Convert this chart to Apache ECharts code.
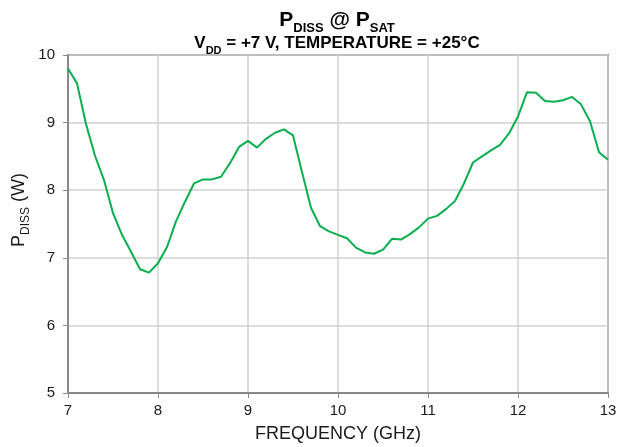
<!DOCTYPE html>
<html><head><meta charset="utf-8">
<script src="https://cdn.jsdelivr.net/npm/echarts@6/dist/echarts.min.js"></script>
<style>html,body{margin:0;padding:0;background:#fff}#c{width:628px;height:447px}</style>
</head><body><div id="c"></div>
<script>
const freq = [7.0,7.1,7.2,7.3,7.4,7.5,7.6,7.7,7.8,7.9,8.0,8.1,8.2,8.3,8.4,8.5,8.6,8.7,8.8,8.9,9.0,9.1,9.2,9.3,9.4,9.5,9.6,9.7,9.8,9.9,10.0,10.1,10.2,10.3,10.4,10.5,10.6,10.7,10.8,10.9,11.0,11.1,11.2,11.3,11.4,11.5,11.6,11.7,11.8,11.9,12.0,12.1,12.2,12.3,12.4,12.5,12.6,12.7,12.8,12.9,13.0];
const pdiss = [9.80,9.58,8.98,8.51,8.15,7.66,7.34,7.09,6.83,6.78,6.92,7.16,7.54,7.83,8.10,8.16,8.16,8.20,8.40,8.64,8.73,8.63,8.76,8.85,8.90,8.81,8.27,7.74,7.47,7.39,7.34,7.29,7.15,7.08,7.06,7.12,7.28,7.27,7.35,7.45,7.58,7.62,7.72,7.84,8.10,8.41,8.50,8.59,8.67,8.84,9.09,9.45,9.44,9.32,9.31,9.33,9.38,9.27,9.02,8.56,8.45];
const xTicks = [7,8,9,10,11,12,13];
const yTicks = [5,6,7,8,9,10];

const chart = echarts.init(document.getElementById('c'));
const F = 'Liberation Sans, Arial, sans-serif';
chart.setOption({
  animation: false,
  title: [{
    text: '{m|P}{s|DISS}{m| @ P}{s|SAT}',
    left: 332, top: 3, textAlign: 'center',
    textStyle: { rich: {
      m: { fontFamily: F, fontSize: 21, fontWeight: 'bold', color: '#000', verticalAlign: 'bottom', lineHeight: 23 },
      s: { fontFamily: F, fontSize: 13, fontWeight: 'bold', color: '#000', verticalAlign: 'bottom', lineHeight: 16, padding: [0,0,-4,0] }
    } }
  }, {
    text: '{m|V}{s|DD}{m| = +7 V, TEMPERATURE = +25°C}',
    left: 332, top: 28, textAlign: 'center',
    textStyle: { rich: {
      m: { fontFamily: F, fontSize: 17, fontWeight: 'bold', color: '#000', verticalAlign: 'bottom', lineHeight: 19 },
      s: { fontFamily: F, fontSize: 11, fontWeight: 'bold', color: '#000', verticalAlign: 'bottom', lineHeight: 14, padding: [0,0,-4,0] }
    } }
  }],
  grid: { left: 68, right: 20, top: 55, bottom: 54, show: true, borderColor: '#888', borderWidth: 2, containLabel: false, outerBoundsMode: 'none' },
  xAxis: {
    type: 'value', min: xTicks[0], max: xTicks[xTicks.length-1], interval: 1,
    name: 'FREQUENCY (GHz)', nameLocation: 'middle', nameGap: 32, nameMoveOverlap: false,
    nameTextStyle: { fontFamily: F, fontSize: 18, color: '#1a1a1a' },
    axisLine: { lineStyle: { color: '#888', width: 2 } },
    axisTick: { show: true, length: 5, lineStyle: { color: '#888' } },
    axisLabel: { fontFamily: F, fontSize: 15, color: '#1a1a1a', margin: 10 },
    splitLine: { lineStyle: { color: '#d0d0d0', width: 1.5 } }
  },
  yAxis: {
    type: 'value', min: yTicks[0], max: yTicks[yTicks.length-1], interval: 1,
    name: '{m|P}{s|DISS}{m| (W)}', nameLocation: 'middle', nameGap: 40, nameMoveOverlap: false,
    nameTextStyle: { padding: [0,0,0,28], rich: {
      m: { fontFamily: F, fontSize: 18, color: '#1a1a1a', verticalAlign: 'bottom', lineHeight: 20 },
      s: { fontFamily: F, fontSize: 12, color: '#1a1a1a', verticalAlign: 'bottom', lineHeight: 14, padding: [0,0,-4,0] }
    } },
    axisLine: { show: true, lineStyle: { color: '#888', width: 2 } },
    axisTick: { show: true, length: 5, lineStyle: { color: '#888' } },
    axisLabel: { fontFamily: F, fontSize: 15, color: '#1a1a1a', margin: 13 },
    splitLine: { lineStyle: { color: '#d0d0d0', width: 1.5 } }
  },
  series: [{
    type: 'line', data: freq.map((f,i)=>[f,pdiss[i]]),
    showSymbol: false, lineStyle: { color: '#0aae4f', width: 2 }
  }]
});
</script></body></html>
